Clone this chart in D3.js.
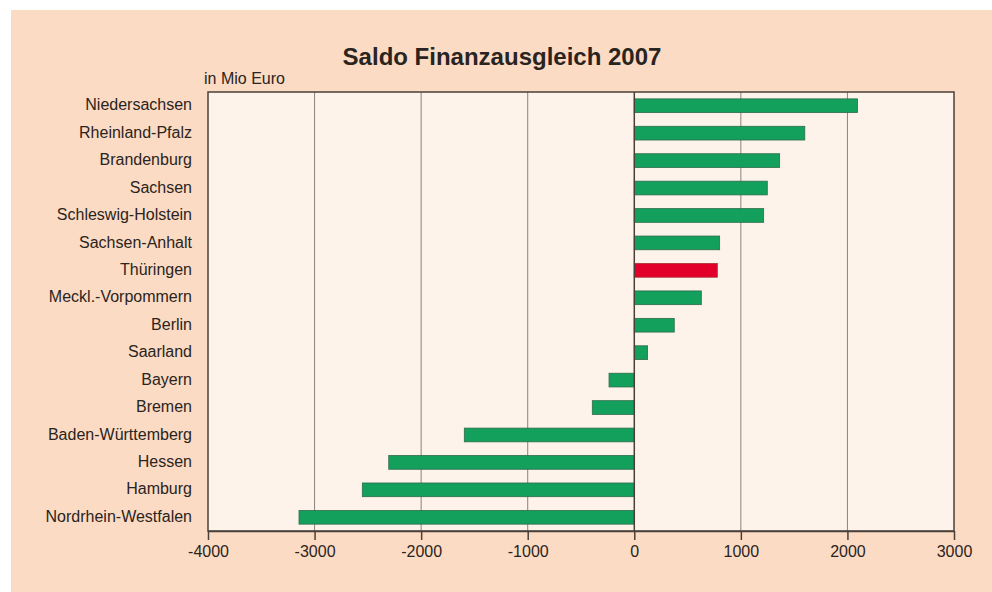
<!DOCTYPE html>
<html>
<head>
<meta charset="utf-8">
<script src="https://cdn.jsdelivr.net/npm/d3@7"></script>
<style>
  body { margin: 0; background: #fff; }
  svg { display: block; font-family: "Liberation Sans", Arial, sans-serif; }
</style>
</head>
<body>
<svg id="chart" width="992" height="592"></svg>
<script>
const laender = ['Niedersachsen', 'Rheinland-Pfalz', 'Brandenburg', 'Sachsen', 'Schleswig-Holstein', 'Sachsen-Anhalt', 'Thüringen', 'Meckl.-Vorpommern', 'Berlin', 'Saarland', 'Bayern', 'Bremen', 'Baden-Württemberg', 'Hessen', 'Hamburg', 'Nordrhein-Westfalen'];
const saldo = [2095, 1600, 1364, 1248, 1214, 801, 779, 629, 375, 125, -237, -394, -1595, -2304, -2552, -3146];
const xTicks = [-4000, -3000, -2000, -1000, 0, 1000, 2000, 3000];
const highlight = 'Thüringen';

const svg = d3.select('#chart');
const margin = { left: 208, right: 38, top: 92, bottom: 61 };
const w = 992, h = 592;
const ink = '#2a2420';
const axisColor = '#4a403a';

svg.append('rect').attr('x', 11).attr('y', 10).attr('width', w - 11).attr('height', h - 10).attr('fill', '#fcdbc4');

const x = d3.scaleLinear().domain([-4000, 3000]).range([margin.left, w - margin.right]);
const y = d3.scaleBand().domain(laender).range([margin.top, h - margin.bottom]).paddingInner(0.5).paddingOuter(0.25);

svg.append('rect')
  .attr('x', x(-4000)).attr('y', margin.top)
  .attr('width', x(3000) - x(-4000)).attr('height', h - margin.bottom - margin.top)
  .attr('fill', '#fef3ea');

// gridlines
svg.append('g').selectAll('line').data(xTicks.filter((t) => t !== 0 && t !== -4000 && t !== 3000)).join('line')
  .attr('x1', (d) => x(d)).attr('x2', (d) => x(d))
  .attr('y1', margin.top).attr('y2', h - margin.bottom)
  .attr('stroke', '#8a827c').attr('stroke-width', 1);

// bars
svg.append('g').selectAll('rect').data(laender).join('rect')
  .attr('x', (d, i) => x(Math.min(0, saldo[i])))
  .attr('y', (d) => y(d))
  .attr('width', (d, i) => Math.abs(x(saldo[i]) - x(0)))
  .attr('height', y.bandwidth())
  .attr('fill', (d) => (d === highlight ? '#e2002b' : '#12a05c'))
  .attr('stroke', (d) => (d === highlight ? '#a8302f' : '#2d6c4a'))
  .attr('stroke-width', 0.8);

// zero line
svg.append('line')
  .attr('x1', x(0)).attr('x2', x(0))
  .attr('y1', margin.top).attr('y2', h - margin.bottom)
  .attr('stroke', axisColor).attr('stroke-width', 1.5);

// frame
svg.append('rect')
  .attr('x', x(-4000)).attr('y', margin.top)
  .attr('width', x(3000) - x(-4000)).attr('height', h - margin.bottom - margin.top)
  .attr('fill', 'none').attr('stroke', axisColor).attr('stroke-width', 1.5);

// x axis
const xAxis = svg.append('g')
  .attr('transform', 'translate(0,' + (h - margin.bottom) + ')')
  .call(d3.axisBottom(x).tickValues(xTicks).tickFormat((d) => String(d)).tickSize(9).tickPadding(6).tickSizeOuter(0));
xAxis.select('.domain').attr('stroke', axisColor).attr('stroke-width', 1.5);
xAxis.selectAll('.tick line').attr('stroke', axisColor).attr('stroke-width', 1.5);
xAxis.selectAll('.tick text').attr('fill', ink).attr('font-size', 16).attr('font-family', '"Liberation Sans", Arial, sans-serif');

// y labels
svg.append('g').selectAll('text').data(laender).join('text')
  .attr('x', 192)
  .attr('y', (d) => y(d) + y.bandwidth() / 2 - 1)
  .attr('dy', '0.35em')
  .attr('text-anchor', 'end')
  .attr('font-size', 16)
  .attr('fill', ink)
  .text((d) => d);

svg.append('text')
  .attr('x', 502).attr('y', 65)
  .attr('text-anchor', 'middle')
  .attr('font-size', 24).attr('font-weight', 'bold')
  .attr('fill', ink)
  .text('Saldo Finanzausgleich 2007');

svg.append('text')
  .attr('x', 204).attr('y', 84)
  .attr('font-size', 16)
  .attr('fill', ink)
  .text('in Mio Euro');
</script>
</body>
</html>
